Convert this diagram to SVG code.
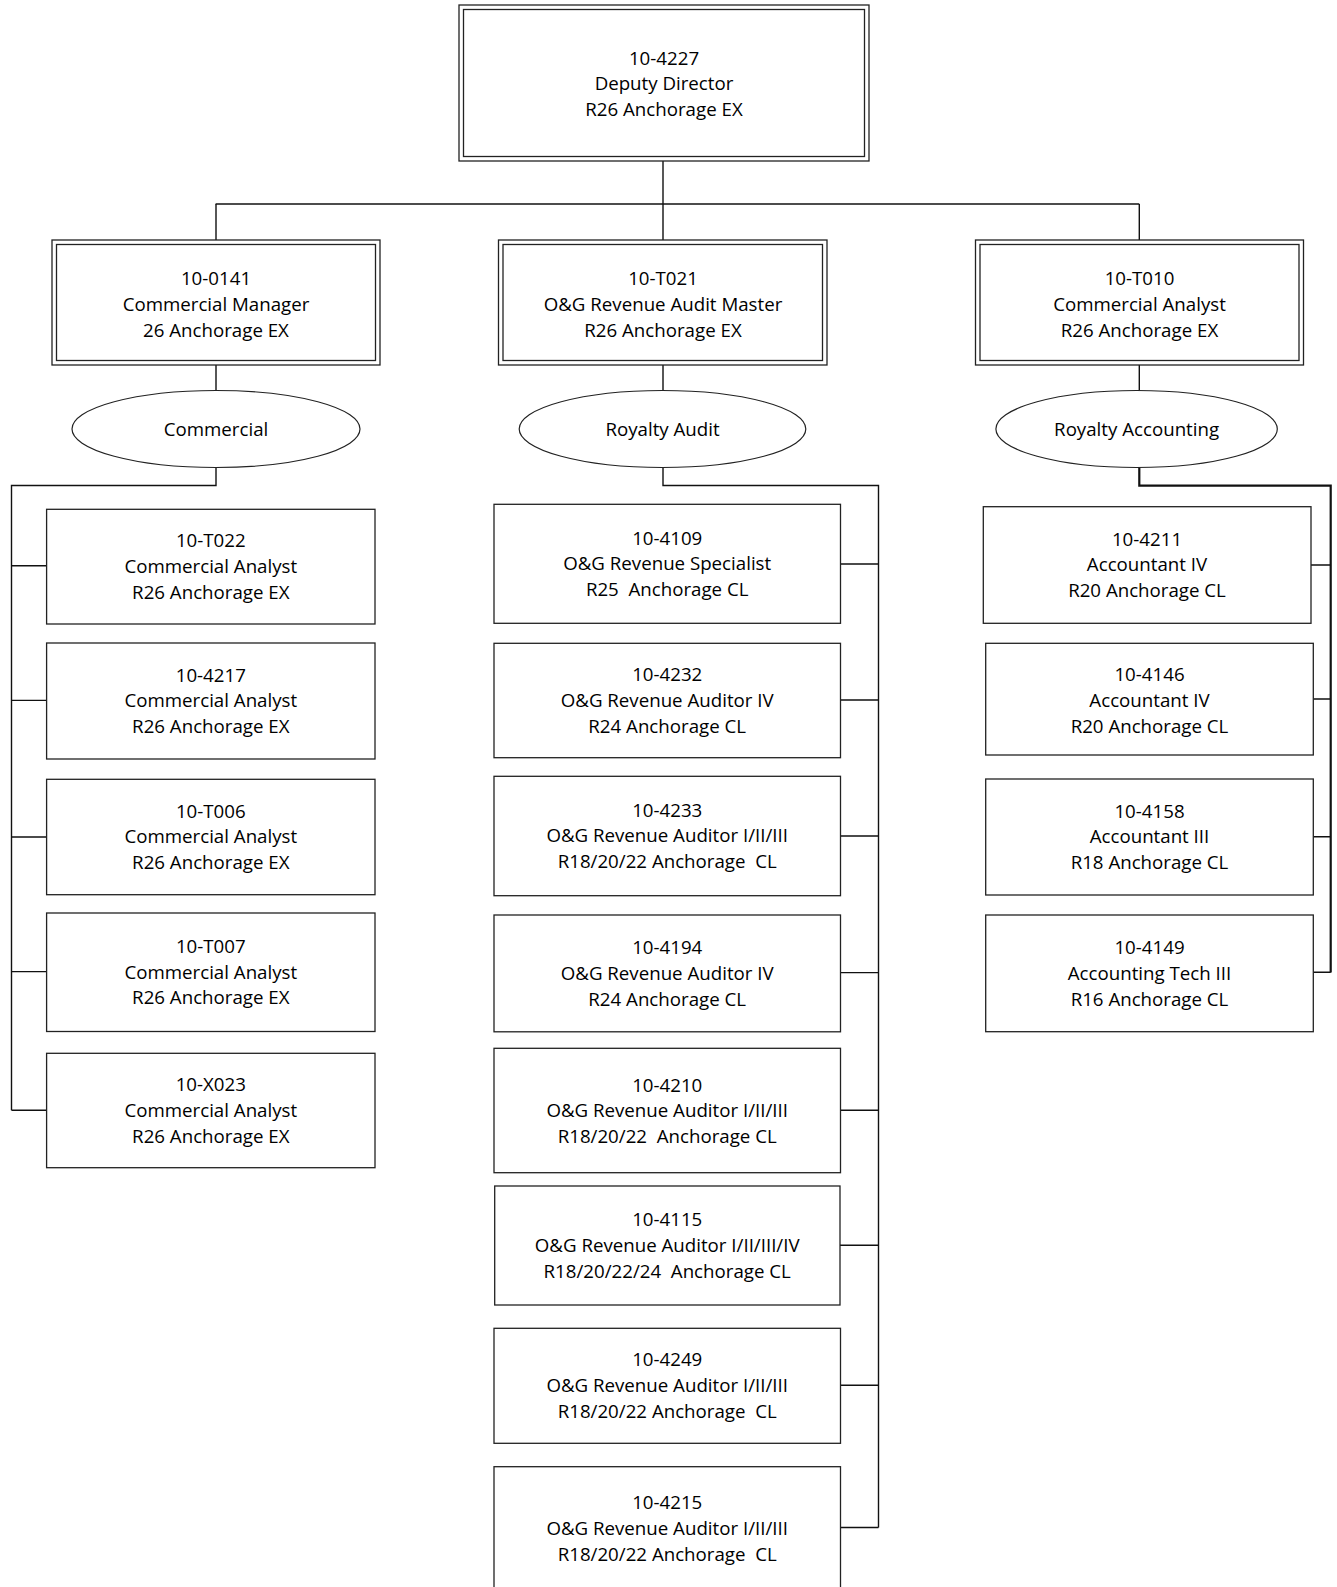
<svg xmlns="http://www.w3.org/2000/svg" width="1337" height="1587" viewBox="0 0 1337 1587">
<style>
  .bg { fill: #ffffff; }
  .box { fill: #ffffff; stroke: #222222; stroke-width: 1.3; }
  .inner { fill: none; stroke: #222222; stroke-width: 1.3; }
  .ell { fill: #ffffff; stroke: #222222; stroke-width: 1.2; }
  .conn { fill: none; stroke: #111111; stroke-width: 1.4; }
  .thick { fill: none; stroke: #111111; stroke-width: 2.2; }
  text { font-family: "Open Sans", "Noto Sans", "Liberation Sans", sans-serif; font-size: 18.7px; fill: #000000; text-anchor: middle; white-space: pre; }
</style>
<rect class="bg" x="0" y="0" width="1337" height="1587"/>

<g id="connectors">
  <path class="conn" d="M663,161 V204"/>
  <path class="conn" d="M215.6,204 H1139.3"/>
  <path class="conn" d="M216,204 V240 M663,204 V240 M1139.3,204 V240"/>
  <path class="conn" d="M216,365 V390.5 M663,365 V390 M1139.3,365 V390.5"/>
  <!-- Commercial bus -->
  <path class="conn" d="M216,467.5 V485.5 H11.5 V1110.3"/>
  <path class="conn" d="M11.5,565.8 H46.6 M11.5,700.4 H46.6 M11.5,837 H46.6 M11.5,971.6 H46.6 M11.5,1110.3 H46.6"/>
  <!-- Royalty Audit bus -->
  <path class="conn" d="M663,468 V485.5 H878.5 V1527.5"/>
  <path class="conn" d="M840.5,564 H878.5 M840.5,700 H878.5 M840.5,836 H878.5 M840.5,972.6 H878.5 M840.5,1110.3 H878.5 M840,1245.3 H878.5 M840.5,1385.3 H878.5 M840.5,1527.5 H878.5"/>
  <!-- Royalty Accounting bus -->
  <path class="thick" d="M1139.3,467.5 V485.7 H1330.7 V972.5"/>
  <path class="conn" d="M1311,565 H1330.7 M1313.3,699 H1330.7 M1313.3,836.7 H1330.7 M1313.3,972.3 H1330.7"/>
</g>

<g id="n-4227">
  <rect class="box" x="459" y="5" width="410" height="156"/>
  <rect class="inner" x="463.5" y="9.5" width="401" height="147"/>
  <text x="664" y="64.6">10-4227</text>
  <text x="664" y="90.4">Deputy Director</text>
  <text x="664" y="116.2">R26 Anchorage EX</text>
</g>

<g id="n-0141">
  <rect class="box" x="52" y="240" width="328" height="125"/>
  <rect class="inner" x="56.5" y="244.5" width="319" height="116"/>
  <text x="216" y="285.1">10-0141</text>
  <text x="216" y="310.9">Commercial Manager</text>
  <text x="216" y="336.7">26 Anchorage EX</text>
</g>

<g id="n-T021">
  <rect class="box" x="498.5" y="240" width="328.5" height="125"/>
  <rect class="inner" x="503" y="244.5" width="319.5" height="116"/>
  <text x="663" y="285.1">10-T021</text>
  <text x="663" y="310.9">O&amp;G Revenue Audit Master</text>
  <text x="663" y="336.7">R26 Anchorage EX</text>
</g>

<g id="n-T010">
  <rect class="box" x="975.5" y="240" width="328" height="125"/>
  <rect class="inner" x="980" y="244.5" width="319" height="116"/>
  <text x="1139.5" y="285.1">10-T010</text>
  <text x="1139.5" y="310.9">Commercial Analyst</text>
  <text x="1139.5" y="336.7">R26 Anchorage EX</text>
</g>

<g id="e-commercial">
  <ellipse class="ell" cx="216" cy="429" rx="144" ry="38.5"/>
  <text x="216" y="436.4">Commercial</text>
</g>
<g id="e-royalty-audit">
  <ellipse class="ell" cx="662.5" cy="429" rx="143.3" ry="38.5"/>
  <text x="662.5" y="436.4">Royalty Audit</text>
</g>
<g id="e-royalty-accounting">
  <ellipse class="ell" cx="1136.6" cy="429" rx="140.7" ry="38.5"/>
  <text x="1136.6" y="436.4">Royalty Accounting</text>
</g>

<!-- Commercial column -->
<g id="n-T022">
  <rect class="box" x="46.6" y="509.3" width="328.4" height="114.7"/>
  <text x="210.8" y="547.1">10-T022</text>
  <text x="210.8" y="572.9">Commercial Analyst</text>
  <text x="210.8" y="598.7">R26 Anchorage EX</text>
</g>
<g id="n-4217">
  <rect class="box" x="46.6" y="643" width="328.4" height="116"/>
  <text x="210.8" y="681.6">10-4217</text>
  <text x="210.8" y="707.4">Commercial Analyst</text>
  <text x="210.8" y="733.2">R26 Anchorage EX</text>
</g>
<g id="n-T006">
  <rect class="box" x="46.6" y="779.3" width="328.4" height="115.4"/>
  <text x="210.8" y="817.6">10-T006</text>
  <text x="210.8" y="843.4">Commercial Analyst</text>
  <text x="210.8" y="869.2">R26 Anchorage EX</text>
</g>
<g id="n-T007">
  <rect class="box" x="46.6" y="913" width="328.4" height="118.5"/>
  <text x="210.8" y="952.8">10-T007</text>
  <text x="210.8" y="978.6">Commercial Analyst</text>
  <text x="210.8" y="1004.4">R26 Anchorage EX</text>
</g>
<g id="n-X023">
  <rect class="box" x="46.6" y="1053.3" width="328.4" height="114.4"/>
  <text x="210.8" y="1091.1">10-X023</text>
  <text x="210.8" y="1116.9">Commercial Analyst</text>
  <text x="210.8" y="1142.7">R26 Anchorage EX</text>
</g>

<!-- Royalty Audit column -->
<g id="n-4109">
  <rect class="box" x="494" y="504.3" width="346.5" height="119"/>
  <text x="667.2" y="544.5">10-4109</text>
  <text x="667.2" y="570.3">O&amp;G Revenue Specialist</text>
  <text x="667.2" y="596.1">R25  Anchorage CL</text>
</g>
<g id="n-4232">
  <rect class="box" x="494" y="643.3" width="346.5" height="114.4"/>
  <text x="667.2" y="681.1">10-4232</text>
  <text x="667.2" y="706.9">O&amp;G Revenue Auditor IV</text>
  <text x="667.2" y="732.7">R24 Anchorage CL</text>
</g>
<g id="n-4233">
  <rect class="box" x="494" y="776.3" width="346.5" height="119.4"/>
  <text x="667.2" y="816.6">10-4233</text>
  <text x="667.2" y="842.4">O&amp;G Revenue Auditor I/II/III</text>
  <text x="667.2" y="868.2">R18/20/22 Anchorage  CL</text>
</g>
<g id="n-4194">
  <rect class="box" x="494" y="915" width="346.5" height="116.8"/>
  <text x="667.2" y="954">10-4194</text>
  <text x="667.2" y="979.8">O&amp;G Revenue Auditor IV</text>
  <text x="667.2" y="1005.6">R24 Anchorage CL</text>
</g>
<g id="n-4210">
  <rect class="box" x="494" y="1048.3" width="346.5" height="124.4"/>
  <text x="667.2" y="1091.5">10-4210</text>
  <text x="667.2" y="1117.3">O&amp;G Revenue Auditor I/II/III</text>
  <text x="667.2" y="1143.1">R18/20/22  Anchorage CL</text>
</g>
<g id="n-4115">
  <rect class="box" x="494.7" y="1186" width="345.3" height="119"/>
  <text x="667.2" y="1226.1">10-4115</text>
  <text x="667.2" y="1251.9">O&amp;G Revenue Auditor I/II/III/IV</text>
  <text x="667.2" y="1277.7">R18/20/22/24  Anchorage CL</text>
</g>
<g id="n-4249">
  <rect class="box" x="494" y="1328.3" width="346.5" height="115"/>
  <text x="667.2" y="1366.4">10-4249</text>
  <text x="667.2" y="1392.2">O&amp;G Revenue Auditor I/II/III</text>
  <text x="667.2" y="1418">R18/20/22 Anchorage  CL</text>
</g>
<g id="n-4215">
  <rect class="box" x="494" y="1466.7" width="346.5" height="130"/>
  <text x="667.2" y="1509">10-4215</text>
  <text x="667.2" y="1534.8">O&amp;G Revenue Auditor I/II/III</text>
  <text x="667.2" y="1560.6">R18/20/22 Anchorage  CL</text>
</g>

<!-- Royalty Accounting column -->
<g id="n-4211">
  <rect class="box" x="983.3" y="506.7" width="327.7" height="116.6"/>
  <text x="1147" y="545.6">10-4211</text>
  <text x="1147" y="571.4">Accountant IV</text>
  <text x="1147" y="597.2">R20 Anchorage CL</text>
</g>
<g id="n-4146">
  <rect class="box" x="985.7" y="643.3" width="327.6" height="111.7"/>
  <text x="1149.5" y="680.9">10-4146</text>
  <text x="1149.5" y="706.7">Accountant IV</text>
  <text x="1149.5" y="732.5">R20 Anchorage CL</text>
</g>
<g id="n-4158">
  <rect class="box" x="985.7" y="779" width="327.6" height="116"/>
  <text x="1149.5" y="817.6">10-4158</text>
  <text x="1149.5" y="843.4">Accountant III</text>
  <text x="1149.5" y="869.2">R18 Anchorage CL</text>
</g>
<g id="n-4149">
  <rect class="box" x="985.7" y="915" width="327.6" height="116.7"/>
  <text x="1149.5" y="954">10-4149</text>
  <text x="1149.5" y="979.8">Accounting Tech III</text>
  <text x="1149.5" y="1005.6">R16 Anchorage CL</text>
</g>
</svg>
